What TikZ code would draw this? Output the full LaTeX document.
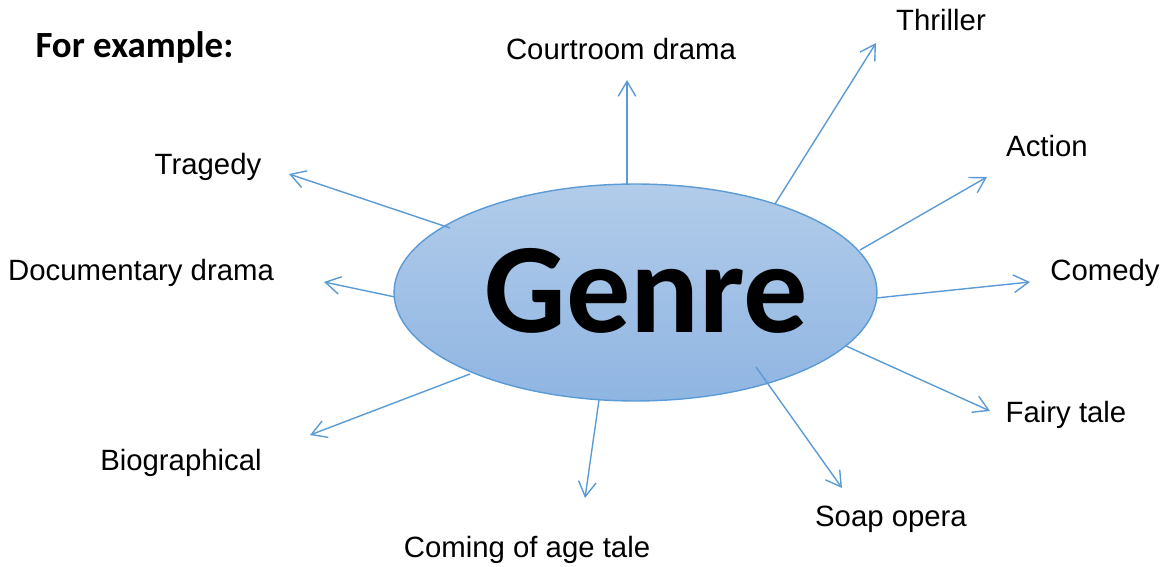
\documentclass[tikz,border=0pt]{standalone}
\usepackage{fontspec}
\setmainfont{Liberation Sans}
\newfontfamily\calfont{Carlito}
\usetikzlibrary{arrows.meta,shapes.geometric}
\definecolor{ln}{HTML}{5B9BD5}
\definecolor{topc}{RGB}{178,204,234}
\definecolor{botc}{RGB}{143,181,226}
\begin{document}
\begin{tikzpicture}[x=0.02cm,y=-0.02cm,
 lbl/.style={anchor=base,inner sep=0,font=\fontsize{16.7}{18}\selectfont},
 arr/.style={draw=ln,line width=0.8pt,-{Straight Barb[length=8.5pt,width=10pt]}}]
\useasboundingbox (0,0) rectangle (1164,567);
\node[ellipse,draw=ln,line width=0.8pt,top color=topc,bottom color=botc,minimum width=9.66cm,minimum height=4.34cm,inner sep=0] (g) at (635.5,292.5) {};
\node[anchor=base,inner sep=0,font=\calfont\bfseries\fontsize{73}{80}\selectfont] (gt) at (646.5,333) {Genre};
\node[anchor=base,inner sep=0,font=\calfont\bfseries\fontsize{21}{24}\selectfont] (fe) at (134.5,58) {For example:};
% labels
\node[lbl] (court) at (621,60) {Courtroom drama};
\node[lbl] (thr) at (941,31) {Thriller};
\node[lbl] (act) at (1047,157) {Action};
\node[lbl] (com) at (1105,281) {Comedy};
\node[lbl] (fai) at (1066,423) {Fairy tale};
\node[lbl] (soap) at (891,527) {Soap opera};
\node[lbl] (coa) at (527,558) {Coming of age tale};
\node[lbl] (bio) at (181,471) {Biographical};
\node[lbl] (doc) at (141,281) {Documentary drama};
\node[lbl] (tra) at (208,175) {Tragedy};
% arrow ends
\coordinate (s1) at (627,185); \coordinate (e1) at (627,80);
\coordinate (s2) at (775,204); \coordinate (e2) at (876,43);
\coordinate (s3) at (860,250); \coordinate (e3) at (987,177);
\coordinate (s4) at (876,298); \coordinate (e4) at (1030,282);
\coordinate (s5) at (846,346); \coordinate (e5) at (990,411);
\coordinate (s6) at (756,367); \coordinate (e6) at (842,488);
\coordinate (s7) at (599,400); \coordinate (e7) at (585,498);
\coordinate (s8) at (470,374); \coordinate (e8) at (310,435);
\coordinate (s9) at (395,297); \coordinate (e9) at (324,282);
\coordinate (s10) at (450,228); \coordinate (e10) at (289,174);
\foreach \i in {1,...,10} {\draw[arr] (s\i) -- (e\i);}
\end{tikzpicture}
\end{document}
